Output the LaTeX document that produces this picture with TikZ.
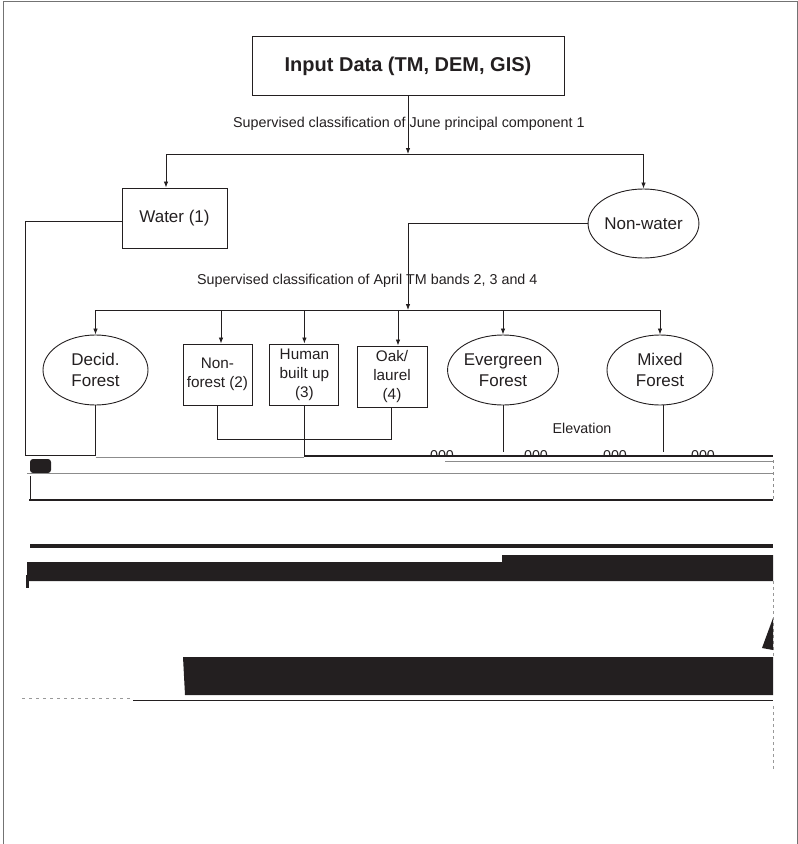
\documentclass[tikz,border=0pt]{standalone}
\usepackage{fontspec}
\setmainfont{Liberation Sans}
\usepackage{xcolor}
\usetikzlibrary{shapes.geometric}
\usetikzlibrary{positioning}
\usetikzlibrary{arrows.meta,calc}
\definecolor{ink}{HTML}{231F20}

\begin{document}
\begin{tikzpicture} [
    x=1pt, y=-1pt,
    every node/.style = { text=ink },
    cls/.style   = { ellipse, draw=ink, line width=0.9pt, inner sep=0pt,
                     minimum width=105pt, minimum height=70pt, align=center,
                     font=\fontsize{17}{21}\selectfont },
    block/.style = { rectangle, draw=ink, line width=0.9pt, inner sep=0pt,
                     minimum width=69pt, minimum height=61pt, align=center,
                     font=\fontsize{15.3}{19}\selectfont },
    lbl/.style   = { inner sep=0pt, font=\fontsize{14.3}{17}\selectfont },
    line/.style  = { draw=ink, line width=0.8pt, -{Latex[length=6pt,width=4.5pt]} },
    wire/.style  = { draw=ink, line width=0.8pt },
  ]
  \useasboundingbox (0,0) rectangle (798,844);
  % page frame
  \draw[black!55, line width=0.8pt] (3,844) -- (3,1.5) -- (797,1.5) -- (797,844);

  \node (input) [block, minimum width=312pt, minimum height=59pt,
                 font=\fontsize{20}{24}\selectfont\bfseries] at (408,66) {Input Data (TM, DEM, GIS)};
  \node (lbljune) [lbl, anchor=west] at (233,124) {Supervised classification of June principal component 1};
  \coordinate (bar1) at (408,154);
  \node (water) [block, minimum width=105pt, minimum height=60pt,
                 font=\fontsize{17}{21}\selectfont] at (174.5,218) {Water (1)};
  \node (nonwater) [cls, minimum height=69pt] at (643.5,223.5) {Non-water};

  \node (lblapril) [lbl, anchor=west] at (197,281) {Supervised classification of April TM bands 2, 3 and 4};
  \coordinate (bar2) at (408,310);
  \node (decid) [cls] at (95.5,370) {Decid.\\Forest};
  \node (nonforest) [block] at (217.5,374.5) {Non-\\forest (2)};
  \node (human) [block, right=17pt of nonforest] {Human\\built up\\(3)};
  \node (oak) [block, minimum width=70pt] at (392,376.5) {Oak/\\laurel\\(4)};
  \node (evergreen) [cls, minimum width=106pt] at (503,370) {Evergreen\\Forest};
  \node (mixed) [cls, minimum width=106pt] at (660,370) {Mixed\\Forest};
  \node (lblelev) [lbl] at (582,428) {Elevation};

  \coordinate (wcorner) at (25,455);
  \coordinate (hfoot) at (304,457);

  % connect nodes
  \begin{scope}[every path/.style=line]
  \path (input) -- (bar1);
  \path (bar1) -| ([xshift=-8.5pt]water.north);
  \path (bar1) -| (nonwater);
  \path (nonwater.west) -- (nonwater.west -| bar2) -- (bar2);
  \path (bar2) -| (decid);
  \path (bar2) -| ([xshift=3.5pt]nonforest.north);
  \path (bar2) -| (human);
  \path (bar2) -| ([xshift=6pt]oak.north);
  \path (bar2) -| (evergreen);
  \path (bar2) -| (mixed);
  \end{scope}
  \begin{scope}[every path/.style=wire]
  \path ([yshift=-3pt]water.west) -| (wcorner) -- (decid.south |- wcorner);
  \path (decid) -- (decid.south |- wcorner);
  \path (nonforest.south) -- ++(0,34) -| ([xshift=-1pt]oak.south);
  \path (human) -- (human.south |- hfoot);
  \path (evergreen.south) -- ++(0,47);
  \path ([xshift=3pt]mixed.south) -- ++(0,47);
  \end{scope}
  \draw[black!45, line width=0.8pt] (decid.south |- hfoot) -- (hfoot);
  \draw[ink, line width=2.6pt] (304,456) -- (773,456);
  \draw[black!45, line width=0.8pt] (445,461) -- (773,461);

  % clipped elevation values
  \begin{scope}
    \clip (420,440) rectangle (773,454.5);
    \foreach \vx in {442,536,615,703}
      \node[lbl] at (\vx,456) {000};
  \end{scope}

  % damaged lower part of the scan
  \fill[ink, rounded corners=3pt] (30,459) rectangle (51,473);
  \draw[black!45, line width=0.8pt] (27,473) -- (773,473);
  \draw[ink, line width=0.8pt] (30,476) -- (30,500);
  \draw[ink, line width=2.2pt] (29,500) -- (773,500);
  \draw[black!45, dashed, line width=0.8pt] (773,460) -- (773,500);
  \draw[ink, line width=4pt] (30,545.5) -- (773,545.5);
  \fill[ink] (27,562) -- (502,562) -- (502,555) -- (773,555) -- (773,581) -- (27,581) -- cycle;
  \fill[ink] (26,575) rectangle (29,588);
  \draw[black!40, dashed, line width=0.8pt] (773,581) -- (773,657);
  \fill[ink] (773,618) -- (773,650) -- (762,648) -- cycle;
  \fill[ink] (183,657) -- (773,657) -- (773,695) -- (185,695) -- cycle;
  \draw[ink, line width=1.2pt] (133,700.5) -- (773,700.5);
  \draw[black!40, dash pattern=on 3pt off 4pt, line width=0.8pt] (22,698) -- (133,698);
  \draw[black!40, dashed, line width=0.8pt] (773,706) -- (773,770);
\end{tikzpicture}
\end{document}
